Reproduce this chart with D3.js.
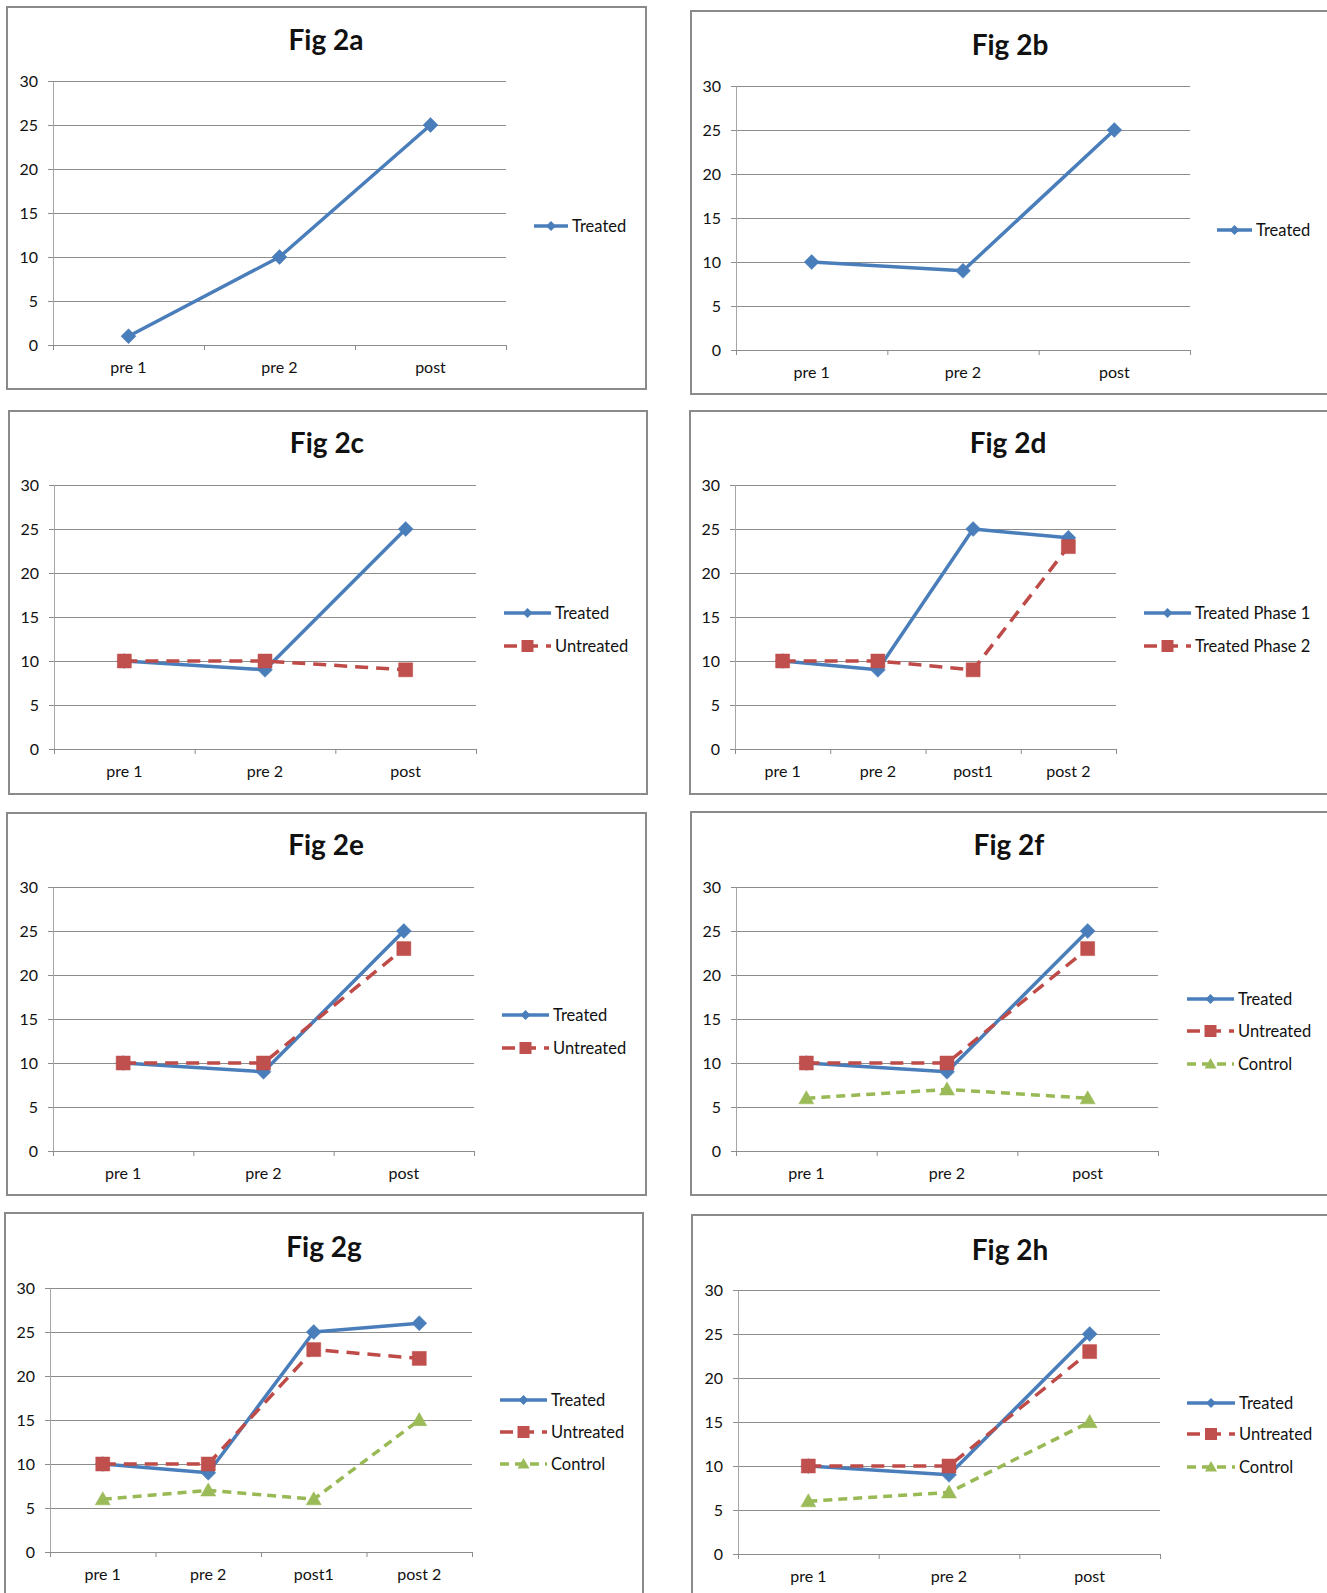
<!DOCTYPE html>
<html>
<head>
<meta charset="utf-8">
<script src="https://cdn.jsdelivr.net/npm/d3@7"></script>
<style>
  body { margin: 0; background: #fff; }
  text { font-family: Lato, "Open Sans", sans-serif; fill: #111; }
</style>
</head>
<body>
<svg id="chart" width="1327" height="1593"></svg>
<script>
// categories and values
const cats3 = ['pre 1', 'pre 2', 'post'];
const cats4 = ['pre 1', 'pre 2', 'post1', 'post 2'];
const yTicks = [0, 5, 10, 15, 20, 25, 30];

const fig2aTreated = [1, 10, 25];
const fig2bTreated = [10, 9, 25];
const fig2cTreated = [10, 9, 25];
const fig2cUntreated = [10, 10, 9];
const fig2dPhase1 = [10, 9, 25, 24];
const fig2dPhase2 = [10, 10, 9, 23];
const fig2eTreated = [10, 9, 25];
const fig2eUntreated = [10, 10, 23];
const fig2fTreated = [10, 9, 25];
const fig2fUntreated = [10, 10, 23];
const fig2fControl = [6, 7, 6];
const fig2gTreated = [10, 9, 25, 26];
const fig2gUntreated = [10, 10, 23, 22];
const fig2gControl = [6, 7, 6, 15];
const fig2hTreated = [10, 9, 25];
const fig2hUntreated = [10, 10, 23];
const fig2hControl = [6, 7, 15];

// series looks (Excel 2007 palette)
const styles = {
  blue:  {line: '#4a7ebb', fill: '#4a7ebb', width: 3.5, dash: null,   marker: 'diamond',  size: 7.5, legSize: 5},
  red:   {line: '#be4b48', fill: '#c0504d', width: 3.5, dash: '13,8', marker: 'square',   size: 7,   legSize: 6},
  green: {line: '#98b954', fill: '#9bbb59', width: 3.5, dash: '9,6',  marker: 'triangle', size: 7.5, legSize: 6}
};

function markerPath(type, s) {
  if (type === 'diamond') return `M0,${-s}L${s},0L0,${s}L${-s},0Z`;
  if (type === 'square') return `M${-s},${-s}H${s}V${s}H${-s}Z`;
  // triangle pointing up
  return `M0,${-s}L${s},${s * 0.75}L${-s},${s * 0.75}Z`;
}

class LinePanel {

  constructor(_config, _series) {
    this.config = _config;
    this.series = _series;
    this.initVis();
  }

  initVis() {
    let vis = this;
    const c = vis.config;
    vis.svg = d3.select('#chart');
    vis.g = vis.svg.append('g');

    vis.x = d3.scaleBand().domain(c.categories).range([c.plot.left, c.plot.right]);
    vis.xEdges = d3.scaleLinear().domain([0, c.categories.length]).range([c.plot.left, c.plot.right]);
    vis.y = d3.scaleLinear().domain([0, 30]).range([c.plot.bottom, c.plot.top]);
    vis.renderVis();
  }

  renderVis() {
    let vis = this;
    const c = vis.config;
    const width = c.plot.right - c.plot.left;

    // panel frame
    vis.g.append('rect')
        .attr('x', c.frame.x).attr('y', c.frame.y)
        .attr('width', c.frame.w).attr('height', c.frame.h)
        .attr('fill', '#fff').attr('stroke', '#8a8a8a').attr('stroke-width', 2);

    vis.g.append('text')
        .attr('x', c.title.x).attr('y', c.title.y)
        .attr('text-anchor', 'middle')
        .style('font-size', '28px').style('font-weight', 'bold')
        .text(c.name);

    // gridlines, with the short outer tick
    const grid = vis.g.append('g')
        .attr('transform', `translate(${c.plot.left},0)`)
        .call(d3.axisLeft(vis.y).tickValues(yTicks).tickSize(-width).tickFormat(''));
    grid.select('.domain').remove();
    grid.selectAll('.tick line').attr('stroke', '#8c8c8c').attr('x1', -5);

    const yAxis = vis.g.append('g')
        .attr('transform', `translate(${c.plot.left},0)`)
        .call(d3.axisLeft(vis.y).tickValues(yTicks).tickSize(0).tickPadding(15));
    yAxis.select('.domain').attr('stroke', '#a6a6a6');
    yAxis.selectAll('text').style('font-size', '16px').attr('fill', '#111');

    // category boundary ticks
    const xTicks = vis.g.append('g')
        .attr('transform', `translate(0,${c.plot.bottom})`)
        .call(d3.axisBottom(vis.xEdges).tickValues(d3.range(c.categories.length + 1)).tickSize(5).tickFormat(''));
    xTicks.select('.domain').remove();
    xTicks.selectAll('.tick line').attr('stroke', '#8c8c8c');

    const xAxis = vis.g.append('g')
        .attr('transform', `translate(0,${c.plot.bottom})`)
        .call(d3.axisBottom(vis.x).tickSize(0).tickPadding(17));
    xAxis.select('.domain').remove();
    xAxis.selectAll('text').style('font-size', '16px').attr('fill', '#111');

    const cx = d => vis.x(d.cat) + vis.x.bandwidth() / 2;
    const line = d3.line().x(cx).y(d => vis.y(d.value));

    vis.series.forEach((s, i) => {
      const st = styles[s.style];
      const pts = s.values.map((v, j) => ({cat: c.categories[j], value: v}));

      vis.g.append('path')
          .datum(pts)
          .attr('d', line)
          .attr('fill', 'none')
          .attr('stroke', st.line)
          .attr('stroke-width', st.width)
          .attr('stroke-linejoin', 'round')
          .attr('stroke-dasharray', st.dash);

      vis.g.selectAll(null)
          .data(pts)
          .join('path')
          .attr('transform', d => `translate(${cx(d)},${vis.y(d.value)})`)
          .attr('d', markerPath(st.marker, st.size))
          .attr('fill', st.fill)
          .attr('stroke', st.line)
          .attr('stroke-width', 0.5);

      // legend entry
      const ly = c.legend.ys[i];
      const lx = c.legend.x;
      vis.g.append('line')
          .attr('x1', lx).attr('x2', lx + c.legend.len)
          .attr('y1', ly).attr('y2', ly)
          .attr('stroke', st.line)
          .attr('stroke-width', st.width)
          .attr('stroke-dasharray', st.dash ? st.dash : null);
      vis.g.append('path')
          .attr('transform', `translate(${lx + c.legend.len / 2},${ly})`)
          .attr('d', markerPath(st.marker, st.legSize))
          .attr('fill', st.fill);
      vis.g.append('text')
          .attr('x', lx + c.legend.len + 4)
          .attr('y', ly)
          .attr('dy', '0.35em')
          .style('font-size', '16.5px')
          .text(s.name);
    });
  }
}

new LinePanel({
  name: 'Fig 2a', categories: cats3,
  frame: {x: 7, y: 7, w: 639, h: 382},
  plot: {left: 53, right: 506, top: 81, bottom: 345},
  title: {x: 326, y: 50},
  legend: {x: 534, len: 34, ys: [226]}
}, [{name: 'Treated', values: fig2aTreated, style: 'blue'}]);

new LinePanel({
  name: 'Fig 2b', categories: cats3,
  frame: {x: 691, y: 11, w: 700, h: 383},
  plot: {left: 736, right: 1190, top: 86, bottom: 350},
  title: {x: 1010, y: 55},
  legend: {x: 1217, len: 35, ys: [230]}
}, [{name: 'Treated', values: fig2bTreated, style: 'blue'}]);

new LinePanel({
  name: 'Fig 2c', categories: cats3,
  frame: {x: 9, y: 411, w: 638, h: 383},
  plot: {left: 54, right: 476, top: 485, bottom: 749},
  title: {x: 327, y: 453},
  legend: {x: 504, len: 47, ys: [613, 646]}
}, [{name: 'Treated', values: fig2cTreated, style: 'blue'},
    {name: 'Untreated', values: fig2cUntreated, style: 'red'}]);

new LinePanel({
  name: 'Fig 2d', categories: cats4,
  frame: {x: 690, y: 411, w: 700, h: 383},
  plot: {left: 735, right: 1116, top: 485, bottom: 749},
  title: {x: 1008, y: 453},
  legend: {x: 1144, len: 47, ys: [613, 646]}
}, [{name: 'Treated Phase 1', values: fig2dPhase1, style: 'blue'},
    {name: 'Treated Phase 2', values: fig2dPhase2, style: 'red'}]);

new LinePanel({
  name: 'Fig 2e', categories: cats3,
  frame: {x: 7, y: 813, w: 639, h: 382},
  plot: {left: 53, right: 474, top: 887, bottom: 1151},
  title: {x: 326, y: 855},
  legend: {x: 502, len: 47, ys: [1015, 1048]}
}, [{name: 'Treated', values: fig2eTreated, style: 'blue'},
    {name: 'Untreated', values: fig2eUntreated, style: 'red'}]);

new LinePanel({
  name: 'Fig 2f', categories: cats3,
  frame: {x: 691, y: 812, w: 700, h: 383},
  plot: {left: 736, right: 1158, top: 887, bottom: 1151},
  title: {x: 1009, y: 855},
  legend: {x: 1187, len: 47, ys: [999, 1031, 1064]}
}, [{name: 'Treated', values: fig2fTreated, style: 'blue'},
    {name: 'Untreated', values: fig2fUntreated, style: 'red'},
    {name: 'Control', values: fig2fControl, style: 'green'}]);

new LinePanel({
  name: 'Fig 2g', categories: cats4,
  frame: {x: 5, y: 1213, w: 638, h: 400},
  plot: {left: 50, right: 472, top: 1288, bottom: 1552},
  title: {x: 324, y: 1257},
  legend: {x: 500, len: 47, ys: [1400, 1432, 1464]}
}, [{name: 'Treated', values: fig2gTreated, style: 'blue'},
    {name: 'Untreated', values: fig2gUntreated, style: 'red'},
    {name: 'Control', values: fig2gControl, style: 'green'}]);

new LinePanel({
  name: 'Fig 2h', categories: cats3,
  frame: {x: 692, y: 1215, w: 700, h: 400},
  plot: {left: 738, right: 1160, top: 1290, bottom: 1554},
  title: {x: 1010, y: 1260},
  legend: {x: 1187, len: 48, ys: [1403, 1434, 1467]}
}, [{name: 'Treated', values: fig2hTreated, style: 'blue'},
    {name: 'Untreated', values: fig2hUntreated, style: 'red'},
    {name: 'Control', values: fig2hControl, style: 'green'}]);
</script>
</body>
</html>
